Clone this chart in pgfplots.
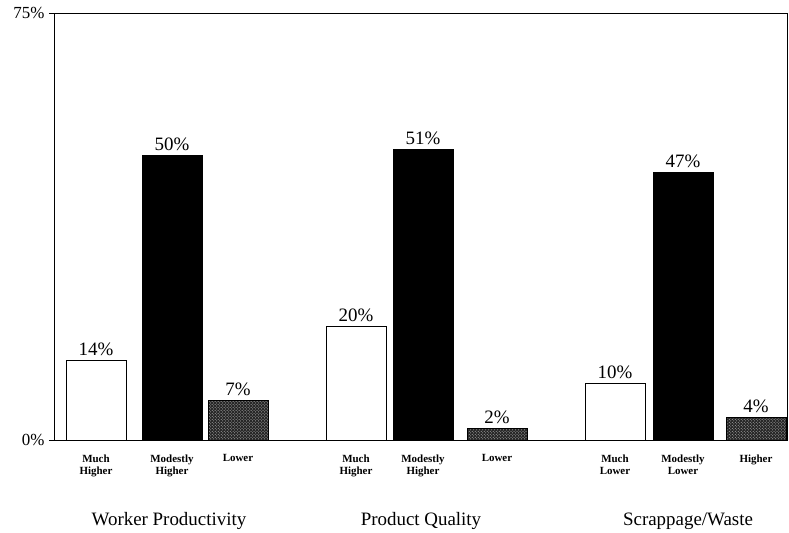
\documentclass[border=0pt]{standalone}
\usepackage{pgfplots}
\pgfplotsset{compat=1.18}
\usepackage{fontspec}
\setmainfont{Liberation Serif}
\usetikzlibrary{patterns}

\begin{document}
\begin{tikzpicture}
\begin{axis}[
    scale only axis,
    width=733bp, height=427bp,
    xmin=54, xmax=787,
    ymin=0, ymax=75,
    ybar,
    bar width=60,
    /pgf/number format/assume math mode=true,
    ytick={0,75},
    yticklabels={0\%,75\%},
    ytick pos=left,
    yticklabel style={font=\fontsize{17}{17}\selectfont, xshift=-1bp},
    tick align=outside,
    major tick length=5bp,
    y tick style={line width=0.9pt, black},
    xtick={96,172,238,356,423,497,615,683,756},
    xticklabels={Much\\Higher, Modestly\\Higher, Lower,
                 Much\\Higher, Modestly\\Higher, Lower,
                 Much\\Lower, Modestly\\Lower, Higher},
    xticklabel style={font=\bfseries\fontsize{11}{12.5}\selectfont, align=center, anchor=north, yshift=-6bp},
    x tick style={draw=none},
    axis line style={line width=0.8pt},
    nodes near coords={\pgfmathprintnumber{\pgfplotspointmeta}\%},
    every node near coord/.append style={font=\fontsize{19}{19}\selectfont, yshift=1bp},
    clip=false,
]

% white bars
\addplot[bar shift=0pt, draw=black, line width=0.9pt, fill=white]
    coordinates {(96,14) (356,20) (615,10)};

% black bars
\addplot[bar shift=0pt, draw=black, fill=black]
    coordinates {(172,50) (423,51) (683,47)};

% speckled bars
\addplot[bar shift=0pt, draw=black, fill=black!85,
    postaction={pattern=crosshatch dots, pattern color=white!75!black}]
    coordinates {(238,7) (497,2) (756,4)};

\node[font=\fontsize{19}{19}\selectfont] at (axis cs:169,0) [yshift=-81bp] {Worker Productivity};
\node[font=\fontsize{19}{19}\selectfont] at (axis cs:421,0) [yshift=-81bp] {Product Quality};
\node[font=\fontsize{19}{19}\selectfont] at (axis cs:688,0) [yshift=-81bp] {Scrappage/Waste};
\end{axis}
\path ([xshift=-54bp,yshift=-93bp]current axis.south west)
    rectangle ([xshift=2bp,yshift=13bp]current axis.north east);
\end{tikzpicture}
\end{document}
